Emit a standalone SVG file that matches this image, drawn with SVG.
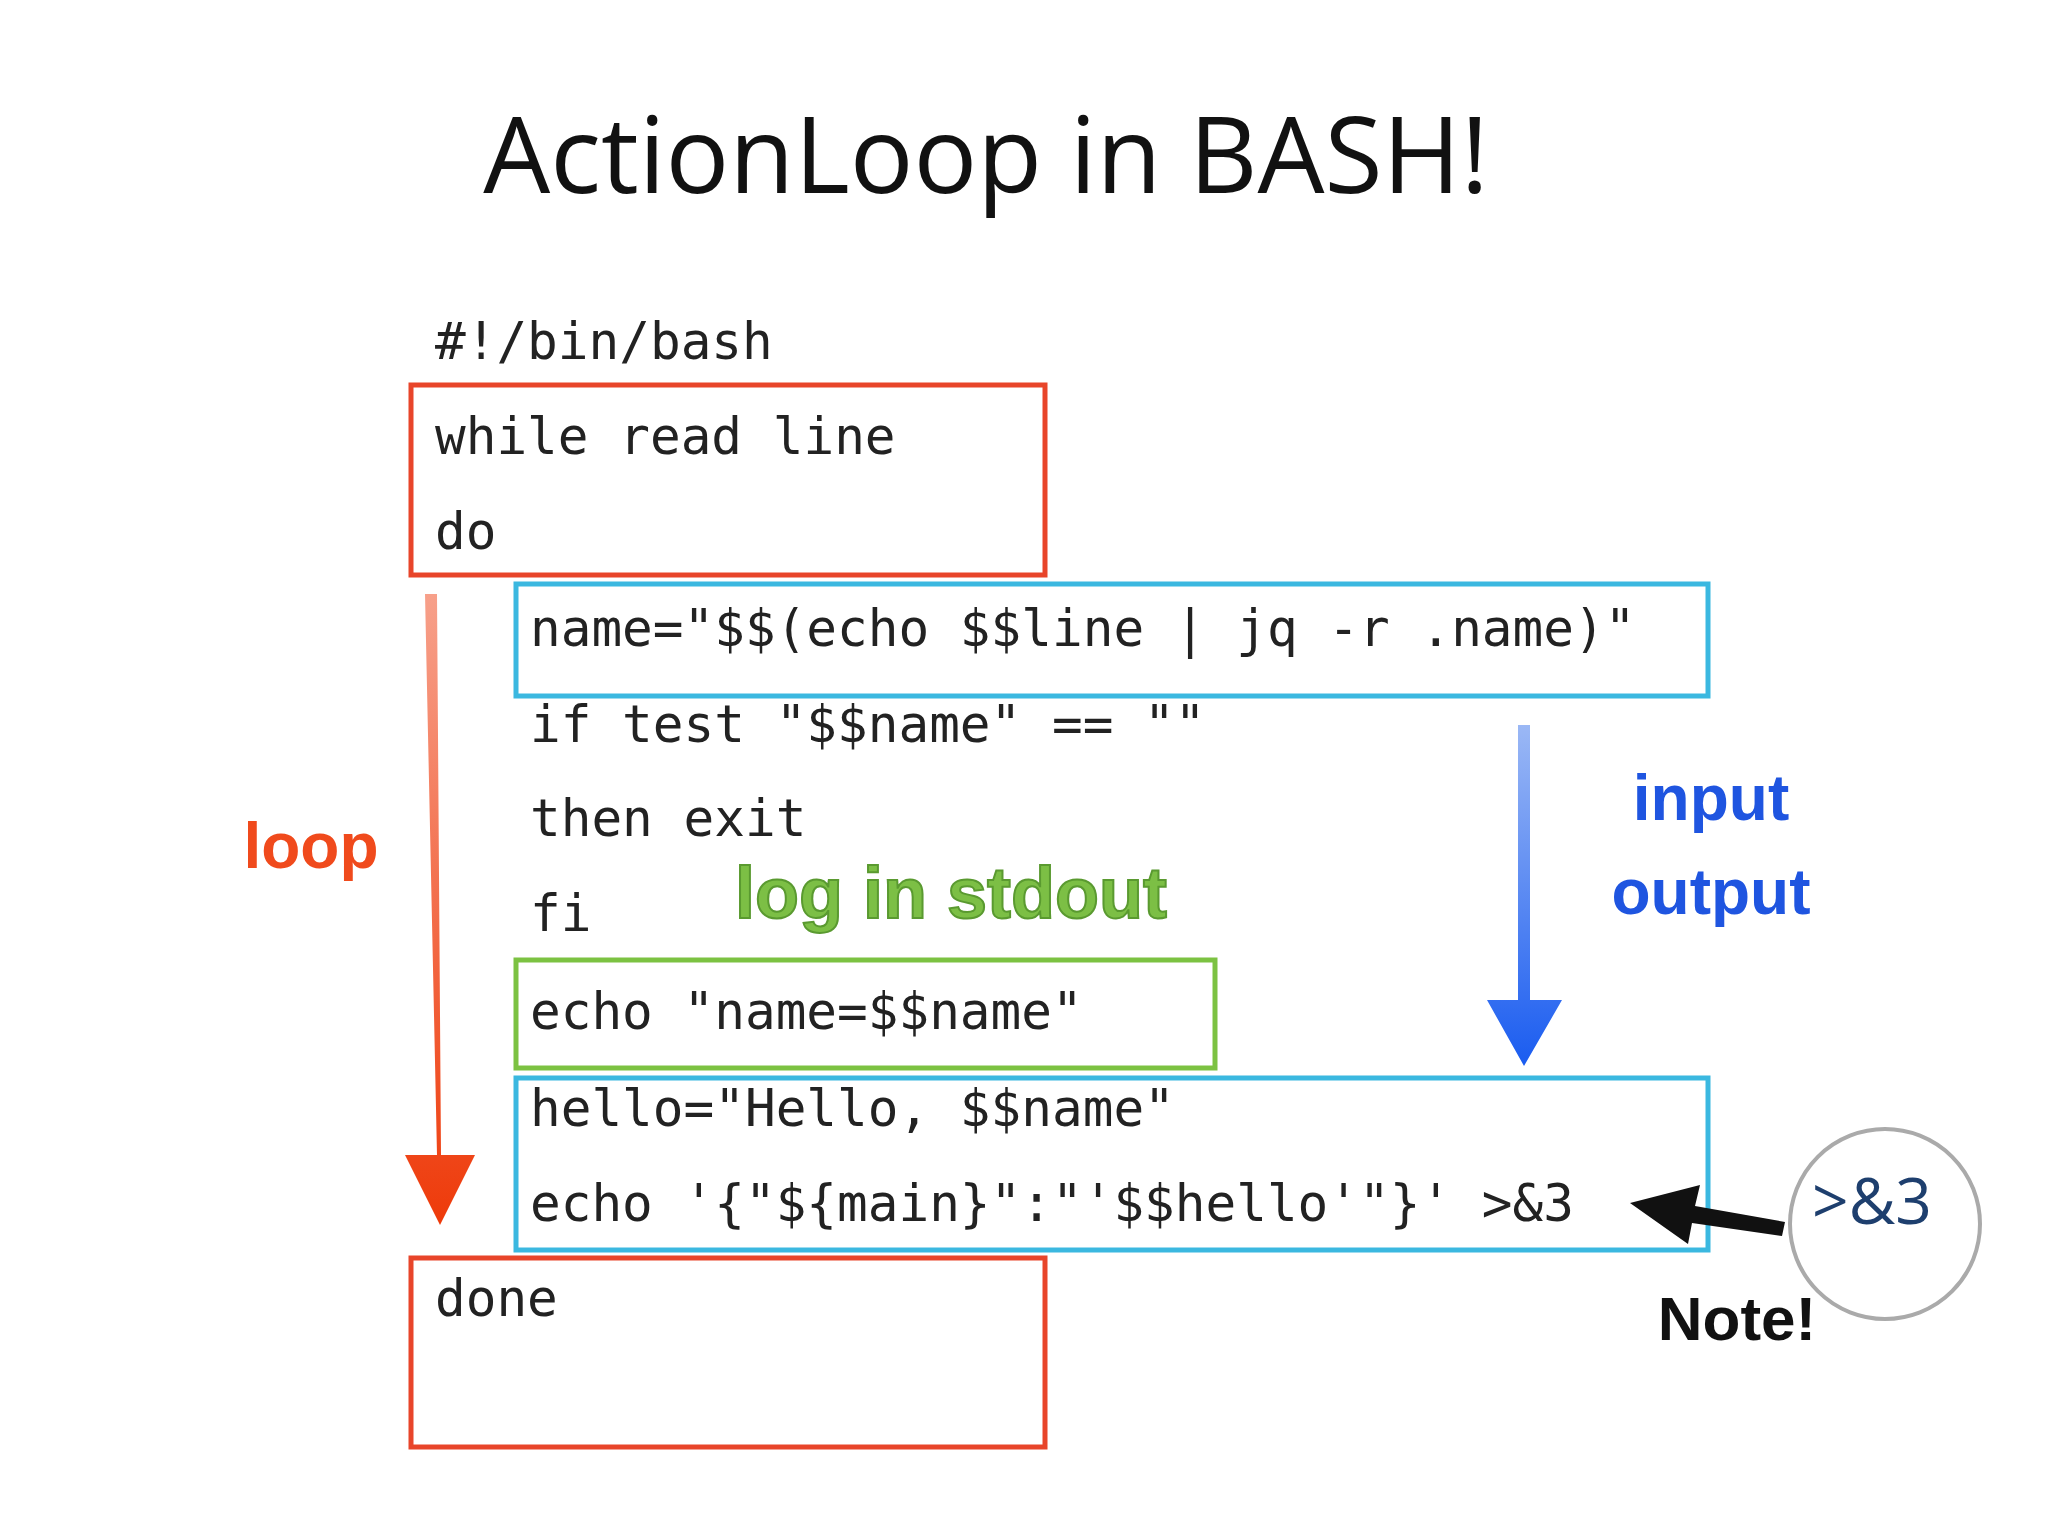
<svg xmlns="http://www.w3.org/2000/svg" width="2048" height="1536" viewBox="0 0 2048 1536">
<style>
.code{font-family:"DejaVu Sans Mono","Liberation Mono",monospace;font-size:51px;fill:#222}
.lbl{font-family:"Liberation Sans",Arial,sans-serif;font-weight:bold}
.box{fill:none;stroke-width:5}
</style>
<defs>
<linearGradient id="rg" x1="0" y1="0" x2="0" y2="1"><stop offset="0" stop-color="#f7a08a"/><stop offset="1" stop-color="#ee3a0a"/></linearGradient>
<linearGradient id="bg" x1="0" y1="0" x2="0" y2="1"><stop offset="0" stop-color="#9bb8f5"/><stop offset="1" stop-color="#1a5cf0"/></linearGradient>
</defs>
<rect width="2048" height="1536" fill="#fff"/>
<text x="986" y="193" text-anchor="middle" font-family="'Open Sans','Noto Sans',sans-serif" font-size="106" fill="#111">ActionLoop in BASH!</text>
<g id="code">
<text class="code" x="435" y="359">#!/bin/bash</text>
<text class="code" x="435" y="454">while read line</text>
<text class="code" x="435" y="549">do</text>
<text class="code" x="530" y="646">name="$$(echo $$line | jq -r .name)"</text>
<text class="code" x="530" y="742">if test "$$name" == ""</text>
<text class="code" x="530" y="836">then exit</text>
<text class="code" x="530" y="931">fi</text>
<text class="code" x="530" y="1029">echo "name=$$name"</text>
<text class="code" x="530" y="1126">hello="Hello, $$name"</text>
<text class="code" x="530" y="1221">echo '{"${main}":"'$$hello'"}' &gt;&amp;3</text>
<text class="code" x="435" y="1316">done</text>
</g>
<g id="boxes">
<rect class="box" x="411" y="385" width="634" height="190" stroke="#e8452a"/>
<rect class="box" x="516" y="584" width="1192" height="112" stroke="#3bb8e0"/>
<rect class="box" x="516" y="960" width="699" height="108" stroke="#7cc242"/>
<rect class="box" x="516" y="1078" width="1192" height="172" stroke="#3bb8e0"/>
<rect class="box" x="411" y="1258" width="634" height="189" stroke="#e8452a"/>
</g>
<g id="connectors">
<path d="M425 594 L437 594 L441 1155 L475 1155 L440 1225 L405 1155 L437 1155 Z" fill="url(#rg)"/>
<path d="M1518 725 L1530 725 L1530 1000 L1562 1000 L1524 1066 L1487 1000 L1518 1000 Z" fill="url(#bg)"/>
<path d="M1785 1222 L1695 1206 L1700 1185 L1630 1203 L1688 1244 L1692 1223 L1782 1236 Z" fill="#111"/>
</g>
<g id="labels">
<text class="lbl" x="311" y="868" text-anchor="middle" font-size="64" fill="#f04a1c">loop</text>
<text class="lbl" x="1711" y="820" text-anchor="middle" font-size="64" fill="#1f55e0">input</text>
<text class="lbl" x="1711" y="914" text-anchor="middle" font-size="64" fill="#1f55e0">output</text>
<text class="lbl" x="735" y="918" font-size="72" fill="#7cbf45" stroke="#5a9a30" stroke-width="2">log in stdout</text>
<text class="lbl" x="1737" y="1340" text-anchor="middle" font-size="62" fill="#111">Note!</text>
</g>
<g id="note">
<circle cx="1885" cy="1224" r="95" fill="#fff" stroke="#aaa" stroke-width="4"/>
<text x="1872" y="1224" text-anchor="middle" font-family="'Open Sans',sans-serif" font-size="64" fill="#1e3f6e">&gt;&amp;3</text>
</g>
</svg>
